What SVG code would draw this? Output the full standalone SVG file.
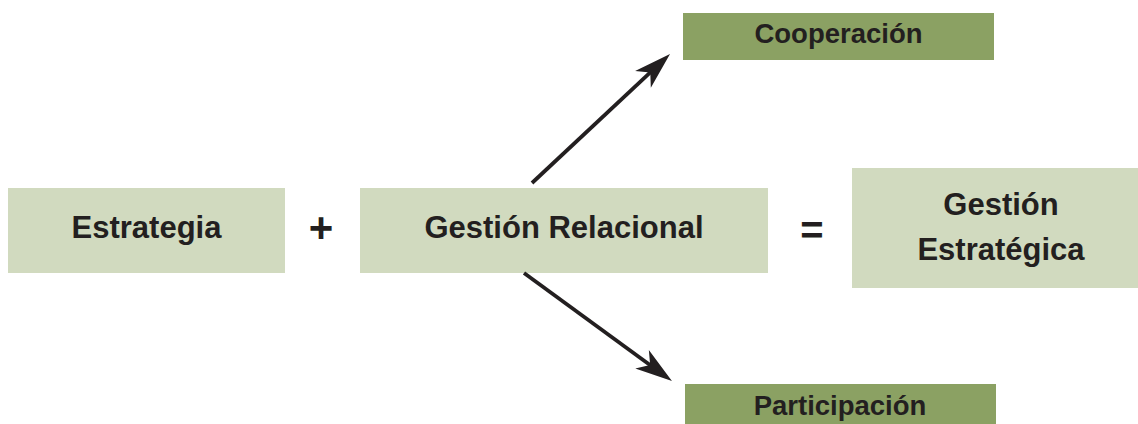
<svg xmlns="http://www.w3.org/2000/svg" width="1138" height="424" viewBox="0 0 1138 424">
  <style>
    .light { fill: #d1dabf; }
    .dark { fill: #8ba163; }
    .t { font-family: "Liberation Sans", Arial, sans-serif; font-weight: bold; fill: #231f20; text-anchor: middle; }
    .big { font-size: 31px; }
    .small { font-size: 27.5px; }
    .conn { stroke: #231f20; stroke-width: 3.8; fill: none; marker-end: url(#ah); }
  </style>
  <defs>
    <marker id="ah" markerUnits="userSpaceOnUse" viewBox="-42 -14 44 28" markerWidth="44" markerHeight="28" refX="-20" refY="0" orient="auto">
      <path d="M0,0 L-37,-11.5 L-27,0 L-37,11.5 Z" fill="#231f20"/>
    </marker>
  </defs>
  <rect width="1138" height="424" fill="#ffffff"/>
  <g id="estrategia">
    <rect class="light" x="8" y="188" width="277" height="85"/>
    <text class="t big" x="146.5" y="238">Estrategia</text>
  </g>
  <g id="plus">
    <text class="t big" x="321" y="242" style="font-size:42px">+</text>
  </g>
  <g id="gestion-relacional">
    <rect class="light" x="360" y="188" width="408" height="85"/>
    <text class="t big" x="564" y="238">Gestión Relacional</text>
  </g>
  <g id="equals">
    <text class="t big" x="812" y="244" style="font-size:40px">=</text>
  </g>
  <g id="gestion-estrategica">
    <rect class="light" x="852" y="168" width="286" height="120"/>
    <text class="t big" x="1001" y="215">Gestión</text>
    <text class="t big" x="1001" y="260">Estratégica</text>
  </g>
  <g id="cooperacion">
    <rect class="dark" x="683" y="13" width="311" height="47"/>
    <text class="t small" x="838.5" y="43">Cooperación</text>
  </g>
  <g id="participacion">
    <rect class="dark" x="685" y="384" width="311" height="45"/>
    <text class="t small" x="840" y="415">Participación</text>
  </g>
  <g id="connectors">
    <line class="conn" x1="532" y1="183" x2="655.4" y2="67.7"/>
    <line class="conn" x1="524" y1="273" x2="655.8" y2="369.2"/>
  </g>
</svg>
